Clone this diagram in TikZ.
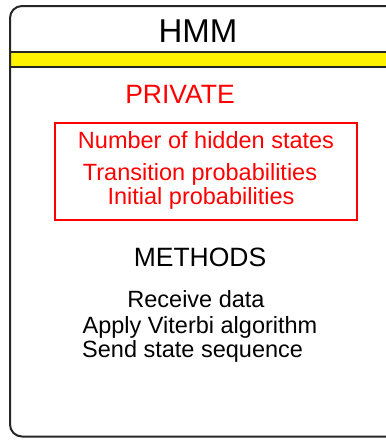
\documentclass[tikz,border=0pt]{standalone}
\usepackage{fontspec}
\setmainfont{Liberation Sans}
\usetikzlibrary{positioning}

\begin{document}
\begin{tikzpicture}[
    x=1pt, y=-1pt,
    titletext/.style={anchor=base, font=\fontsize{33}{36}\selectfont},
    headtext/.style={anchor=base, font=\fontsize{26.5}{30}\selectfont},
    itemtext/.style={anchor=base, font=\fontsize{23.5}{26}\selectfont},
    privtext/.style={itemtext, text=red},
    classbox/.style={draw=black!85, line width=2pt, rounded corners=12pt},
    band/.style={draw=black!85, line width=2pt, fill=yellow},
    privbox/.style={draw=red, line width=1.5pt, minimum width=302pt, minimum height=97pt, inner sep=0pt}
]
\useasboundingbox (0,0) rectangle (386,440);
\clip (0,0) rectangle (386,440);

% ===== Class frame =====
\draw[band] (10,51.7) rectangle (420,66.7);
\draw[classbox] (10,6) rectangle (420,436.5);
\node[titletext] (hmm) at (198,42.7) {HMM};

% ===== Private part =====
\node[headtext, text=red] (private) at (180,103.3) {PRIVATE};
\node[privbox] (privatebox) at (206,171.7) {};
\node[privtext] (numstates) at (206,148.3) {Number of hidden states};
\node[privtext] (transprob) at (200,180) {Transition probabilities};
\node[privtext] (initprob) at (201,204.3) {Initial probabilities};

% ===== Methods =====
\node[headtext] (methods) at (200,266.7) {METHODS};
\node[itemtext] (receive) at (196,307.5) {Receive data};
\node[itemtext] (viterbi) at (200,333) {Apply Viterbi algorithm};
\node[itemtext, anchor=base west, inner xsep=0pt] (sendseq) at (82,357) {Send state sequence};

\end{tikzpicture}
\end{document}
